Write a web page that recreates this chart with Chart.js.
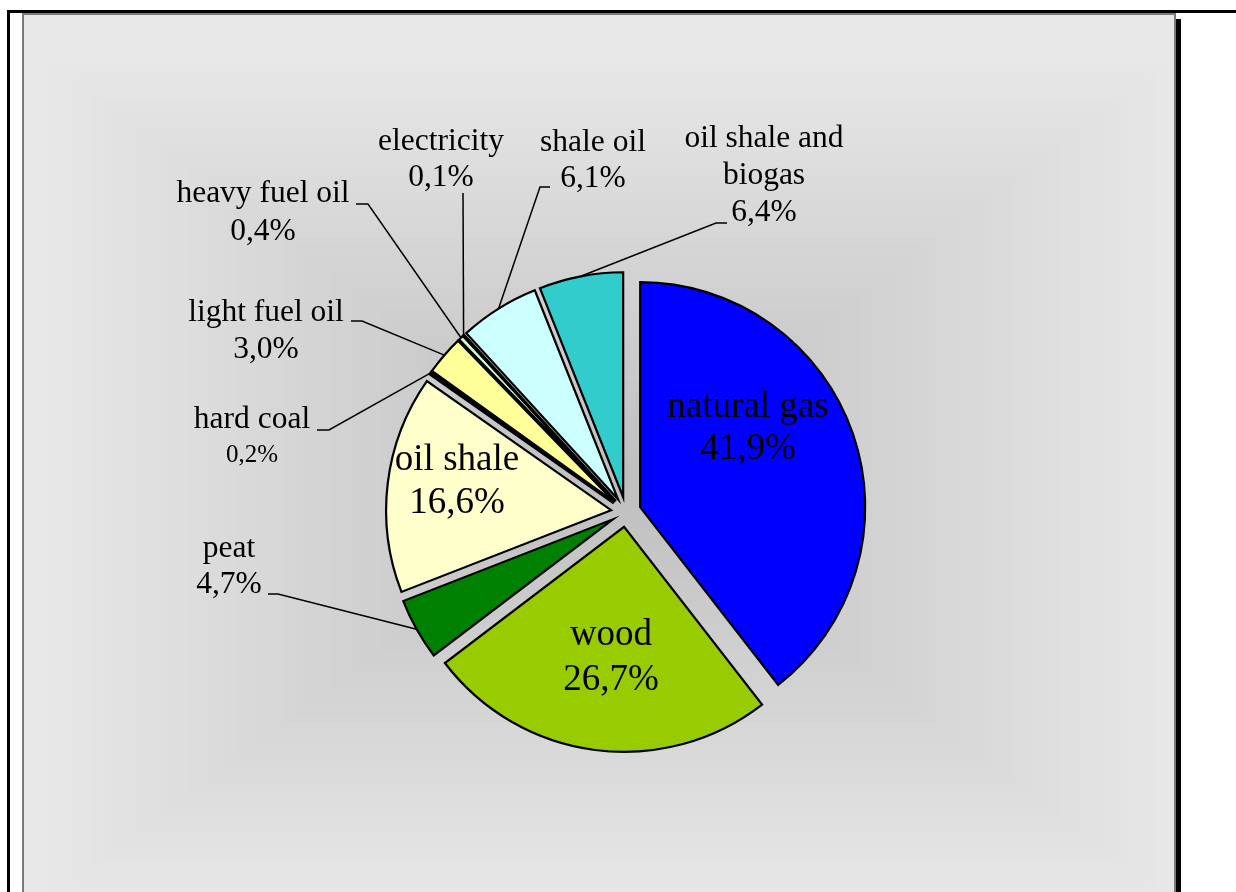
<!DOCTYPE html>
<html>
<head>
<meta charset="utf-8">
<script src="https://cdn.jsdelivr.net/npm/chart.js@4/dist/chart.umd.min.js"></script>
<style>
  html, body { margin: 0; padding: 0; background: #ffffff; }
  #wrap { position: relative; width: 1236px; height: 892px; }
  canvas { display: block; }
</style>
</head>
<body>
<div id="wrap"><canvas id="energyPie" width="1236" height="892"></canvas></div>
<script>
// Fuel shares (%), clockwise from 12 o'clock
const categories = ['natural gas', 'wood', 'peat', 'oil shale', 'hard coal', 'light fuel oil',
                    'heavy fuel oil', 'electricity', 'shale oil', 'oil shale and biogas'];
const shares = [41.9, 26.7, 4.7, 16.6, 0.2, 3.0, 0.4, 0.1, 6.1, 6.4];
const sliceColors = ['#0000FF', '#99CC00', '#008000', '#FFFFCC', '#333300', '#FFFF99',
                     '#CCFFCC', '#000000', '#CCFFFF', '#33CCCC'];

// Where each label sits: centre x, baselines of its lines, font sizes, leader elbow points
const labelPlacement = [
  { x: 748, base: [417, 459], size: 37 },
  { x: 611, base: [645, 690], size: 37 },
  { x: 229, base: [557, 593], size: 31.5, leader: [[268, 594], [278, 594]] },
  { x: 457, base: [470, 513], size: 37 },
  { x: 252, base: [428, 462], size: 31.5, valueSize: 25, leader: [[317, 430], [329, 430]] },
  { x: 266, base: [321, 358], size: 31.5, leader: [[351, 321], [362, 321]] },
  { x: 263, base: [202, 240], size: 31.5, leader: [[356, 204], [368, 204]] },
  { x: 441, base: [150, 186], size: 31.5, leader: [[463, 193]] },
  { x: 593, base: [151, 187], size: 31.5, leader: [[550, 187], [540, 187]] },
  { x: 764, base: [147, 184, 221], size: 31.5, wrapAfter: 3, leader: [[727, 223], [716, 223]] }
];

const EXPLODE = 15;      // outward shift of every slice, px
const PIE_RADIUS = 225;

function fmtShare(v) { return v.toFixed(1).replace('.', ',') + '%'; }

// Frame, shadowed panel and rectangular centre gradient
const panelPlugin = {
  id: 'panel',
  beforeDraw(chart) {
    const ctx = chart.ctx;
    ctx.save();
    ctx.fillStyle = '#ffffff';
    ctx.fillRect(0, 0, chart.width, chart.height);

    // outer frame (top and left rules)
    ctx.fillStyle = '#000000';
    ctx.fillRect(7, 10, chart.width - 7, 3);
    ctx.fillRect(7, 10, 3, chart.height - 10);

    // panel shadow
    ctx.fillRect(1175, 19, 6, chart.height - 19);

    // panel body
    const px0 = 23, py0 = 14, px1 = 1175, py1 = chart.height + 2;
    ctx.fillStyle = '#e8e8e8';
    ctx.fillRect(px0, py0, px1 - px0, py1 - py0);

    ctx.save();
    ctx.beginPath();
    ctx.rect(px0, py0, px1 - px0, py1 - py0);
    ctx.clip();
    const cx = 610, cy = 480, hw = 575, hh = 430;
    const steps = 60;
    const dark = 0xbe, light = 0xe8;
    for (let k = 0; k <= steps; k++) {
      const t = 1 - k / steps;
      const g = Math.round(dark + (light - dark) * t);
      ctx.fillStyle = `rgb(${g},${g},${g})`;
      ctx.fillRect(cx - hw * t, cy - hh * t, 2 * hw * t, 2 * hh * t);
    }
    ctx.restore();

    ctx.strokeStyle = '#7a7a7a';
    ctx.lineWidth = 2;
    ctx.beginPath();
    ctx.moveTo(px0, py1);
    ctx.lineTo(px0, py0);
    ctx.lineTo(px1, py0);
    ctx.lineTo(px1, py1);
    ctx.stroke();
    ctx.restore();
  }
};

// Pull every slice outward along its middle angle
const explodePlugin = {
  id: 'explode',
  beforeDatasetsDraw(chart) {
    const area = chart.chartArea;
    const cx = (area.left + area.right) / 2;
    const cy = (area.top + area.bottom) / 2;
    chart.getDatasetMeta(0).data.forEach(arc => {
      const mid = (arc.startAngle + arc.endAngle) / 2;
      arc.x = cx + Math.cos(mid) * EXPLODE;
      arc.y = cy + Math.sin(mid) * EXPLODE;
    });
  }
};

// Category / share labels with leader lines to the slice rims
const labelPlugin = {
  id: 'sliceLabels',
  afterDatasetsDraw(chart) {
    const ctx = chart.ctx;
    const arcs = chart.getDatasetMeta(0).data;
    ctx.save();
    ctx.fillStyle = '#000000';
    ctx.strokeStyle = '#000000';
    ctx.lineWidth = 1.5;
    ctx.textAlign = 'center';
    ctx.textBaseline = 'alphabetic';
    categories.forEach((name, i) => {
      const p = labelPlacement[i];
      const arc = arcs[i];
      if (p.leader) {
        const mid = (arc.startAngle + arc.endAngle) / 2;
        const ax = arc.x + Math.cos(mid) * arc.outerRadius;
        const ay = arc.y + Math.sin(mid) * arc.outerRadius;
        ctx.beginPath();
        ctx.moveTo(p.leader[0][0], p.leader[0][1]);
        for (let k = 1; k < p.leader.length; k++) ctx.lineTo(p.leader[k][0], p.leader[k][1]);
        ctx.lineTo(ax, ay);
        ctx.stroke();
      }
      let lines;
      if (p.wrapAfter) {
        const words = name.split(' ');
        lines = [words.slice(0, p.wrapAfter).join(' '), words.slice(p.wrapAfter).join(' ')];
      } else {
        lines = [name];
      }
      ctx.font = `${p.size}px "Liberation Serif", "Times New Roman", serif`;
      lines.forEach((ln, k) => ctx.fillText(ln, p.x, p.base[k]));
      ctx.font = `${p.valueSize || p.size}px "Liberation Serif", "Times New Roman", serif`;
      ctx.fillText(fmtShare(shares[i]), p.x, p.base[lines.length]);
    });
    ctx.restore();
  }
};

new Chart(document.getElementById('energyPie'), {
  type: 'pie',
  data: {
    labels: categories,
    datasets: [{
      data: shares,
      backgroundColor: sliceColors,
      borderColor: '#000000',
      borderWidth: 2.2,
      borderJoinStyle: 'miter'
    }]
  },
  options: {
    responsive: false,
    animation: false,
    events: [],
    radius: PIE_RADIUS,
    layout: { padding: { left: 116, right: 100, top: 162, bottom: 30 } },
    plugins: { legend: { display: false }, tooltip: { enabled: false } }
  },
  plugins: [panelPlugin, explodePlugin, labelPlugin]
});
</script>
</body>
</html>
